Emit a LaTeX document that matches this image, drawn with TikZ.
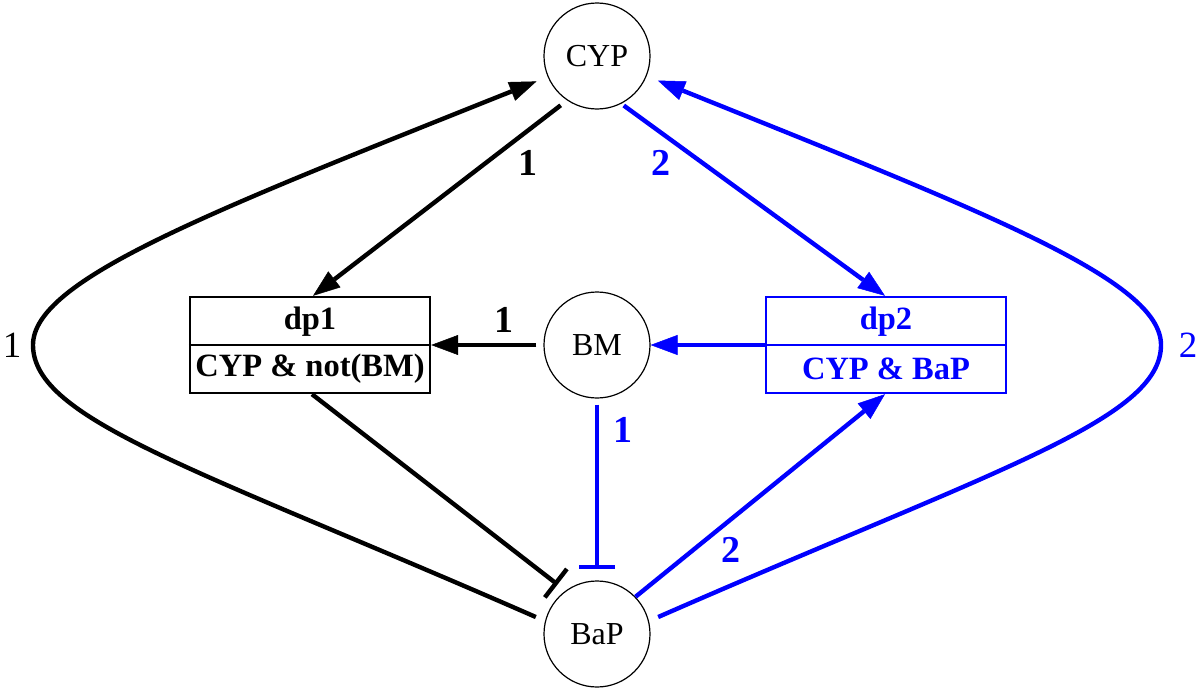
\documentclass[tikz,border=0pt]{standalone}
\usepackage{fontspec}
\setmainfont{Liberation Serif}
\usetikzlibrary{arrows.meta}
\definecolor{gvblue}{RGB}{0,0,255}
\tikzset{
  state/.style={circle, draw=black, line width=1.2pt, minimum size=106pt, inner sep=0pt,
    font=\fontsize{32}{38}\selectfont},
  dpbox/.style={rectangle, draw, line width=2.4pt, minimum width=240pt, minimum height=96pt, inner sep=0pt},
  boxtext/.style={inner sep=0pt, font=\fontsize{32.5}{36}\selectfont\bfseries},
  elabel/.style={inner sep=0pt, font=\fontsize{38}{44}\selectfont\bfseries},
  slabel/.style={inner sep=0pt, font=\fontsize{37}{44}\selectfont},
  edge/.style={line width=4.4pt},
  act/.style={edge, -{Triangle[length=27pt,width=20pt,line width=0.5pt]}},
  inh/.style={edge, -{Bar[width=36pt]}},
}
\begin{document}
\begin{tikzpicture}[x=1pt,y=-1pt]
\useasboundingbox (0,0) rectangle (1203,688);
% nodes
\node[state] (cyp) at (597,56) {CYP};
\node[state] (bm) at (597,345) {BM};
\node[state] (bap) at (597,634) {BaP};
\node[dpbox, draw=black] (dp1) at (310,345) {};
\node[dpbox, draw=gvblue] (dp2) at (886,345) {};
\draw[line width=2.4pt] (dp1.west) -- (dp1.east);
\draw[line width=2.4pt, gvblue] (dp2.west) -- (dp2.east);
\node[boxtext] (dp1t) at (310,322) {dp1};
\node[boxtext] (dp1b) at (310,369) {CYP \& not(BM)};
\node[boxtext, text=gvblue] (dp2t) at (886,322) {dp2};
\node[boxtext, text=gvblue] (dp2b) at (886,369) {CYP \& BaP};
% straight edges
\draw[act, shorten <=8pt] (cyp.-124) -- ([xshift=3pt]dp1.north);
\draw[act, gvblue, shorten <=3pt] (cyp.-63) -- ([xshift=-1pt]dp2.north);
\draw[act, gvblue] (dp2.west) -- (bm.east);
\draw[act, shorten <=7pt] (bm.west) -- (dp1.east);
\draw[inh, gvblue, shorten <=6pt, shorten >=11pt] (bm.south) -- (bap.north);
\draw[inh, shorten >=10pt] ([xshift=2pt]dp1.south) -- (bap.126);
\draw[act, gvblue] (bap.44) -- ([xshift=-1pt]dp2.south);
% curved edges
\draw[act, shorten <=10pt, shorten >=12pt] (bap.166) .. controls (200,470) and (33,420) .. (33,345)
   .. controls (33,280) and (207,213) .. (cyp.-157.4);
\draw[act, gvblue, shorten <=10pt, shorten >=12pt] (bap.14) .. controls (994,470) and (1161,420) .. (1161,345)
   .. controls (1161,280) and (987,213) .. (cyp.-22.6);
% labels
\node[elabel] (l1) at (528,163) {1};
\node[elabel, text=gvblue] (l2) at (661,163) {2};
\node[elabel] (l3) at (504,320) {1};
\node[elabel, text=gvblue] (l4) at (623,430) {1};
\node[elabel, text=gvblue] (l5) at (731,550) {2};
\node[slabel] (s1) at (12,345) {1};
\node[slabel, text=gvblue] (s2) at (1188,345) {2};
\end{tikzpicture}
\end{document}
